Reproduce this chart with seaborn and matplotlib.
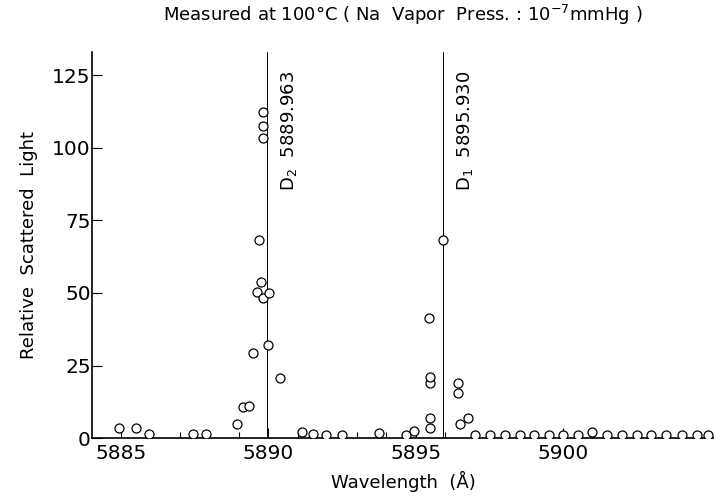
import matplotlib
matplotlib.use("Agg")
from matplotlib import pyplot as plt
from matplotlib.ticker import MultipleLocator
import seaborn as sn
import pandas as pd

sn.set_style('ticks')
plt.rcParams['font.family'] = ['DejaVu Sans']
plt.rcParams['text.color'] = 'black'
plt.rcParams['axes.labelcolor'] = 'black'
plt.rcParams['xtick.color'] = 'black'
plt.rcParams['ytick.color'] = 'black'
plt.rcParams['axes.edgecolor'] = 'black'

# Datos
wavelength = [5884.95, 5885.53, 5885.97, 5887.46, 5887.90, 5888.95, 5889.15, 5889.36,
              5889.50, 5889.63, 5889.70, 5889.77, 5889.83, 5889.83, 5889.83, 5889.83,
              5890.00, 5890.03, 5890.40, 5891.15, 5891.53, 5891.97, 5892.50, 5893.75,
              5894.68, 5894.95, 5895.49, 5895.49, 5895.49, 5895.49, 5895.46, 5895.93,
              5896.44, 5896.44, 5896.50, 5896.78, 5897.02, 5897.53, 5898.03, 5898.54,
              5899.02, 5899.53, 5900.00, 5900.50, 5900.98, 5901.49, 5902.00, 5902.50,
              5903.00, 5903.50, 5904.03, 5904.54, 5904.92]
intensity = [3.4, 3.4, 1.4, 1.4, 1.4, 4.8, 10.7, 11.0,
             29.3, 50.3, 68.3, 53.8, 48.3, 103.4, 107.5, 112.4,
             32.0, 50.0, 20.7, 2.0, 1.4, 1.0, 1.0, 1.7,
             1.0, 2.4, 3.4, 6.9, 19.0, 21.0, 41.4, 68.3,
             15.5, 19.0, 4.8, 6.9, 1.2, 1.2, 1.2, 1.2,
             1.2, 1.2, 1.2, 1.2, 2.2, 1.2, 1.2, 1.2,
             1.2, 1.2, 1.2, 1.2, 1.2]

# Lineas D del sodio
d_lines = [5889.963, 5895.930]
d_labels = ['D$_2$  5889.963', 'D$_1$  5895.930']

yticks = [0, 25, 50, 75, 100, 125]
xticks = [5885, 5890, 5895, 5900]

df = pd.DataFrame({'wavelength': wavelength, 'intensity': intensity})

fig = plt.figure(figsize=(7.14, 4.99), dpi=100)
ax = fig.add_axes([0.129, 0.122, 0.871, 0.774])

for xl, lbl in zip(d_lines, d_labels):
    ax.axvline(xl, color='black', lw=0.7, zorder=1)
    ax.text(xl + 0.75, 126.5, lbl, rotation=90, ha='center', va='top', fontsize=13)

sn.scatterplot(data=df, x='wavelength', y='intensity', ax=ax, marker='o', s=42,
               facecolor='white', edgecolor='black', linewidth=0.9, zorder=3)

ax.set_xlim(5884.03, 5905.12)
ax.set_ylim(0, 133)
ax.set_xticks(xticks)
ax.set_yticks(yticks)
ax.xaxis.set_minor_locator(MultipleLocator(1))
ax.tick_params(axis='both', which='major', direction='in', length=7, width=0.8, labelsize=14.5)
ax.tick_params(axis='x', which='minor', direction='in', length=4, width=0.8)
ax.tick_params(axis='y', pad=1)
ax.tick_params(axis='x', pad=4)

ax.spines['top'].set_visible(False)
ax.spines['right'].set_visible(False)
ax.spines['left'].set_linewidth(1.2)
ax.spines['bottom'].set_linewidth(1.2)

ax.set_xlabel('Wavelength  (Å)', fontsize=13, labelpad=6)
ax.set_ylabel('Relative  Scattered  Light', fontsize=13, labelpad=10)
ax.set_title('Measured at 100°C ( Na  Vapor  Press. : 10$^{-7}$mmHg )', fontsize=13, pad=22)

plt.savefig('out.png', dpi=100)
